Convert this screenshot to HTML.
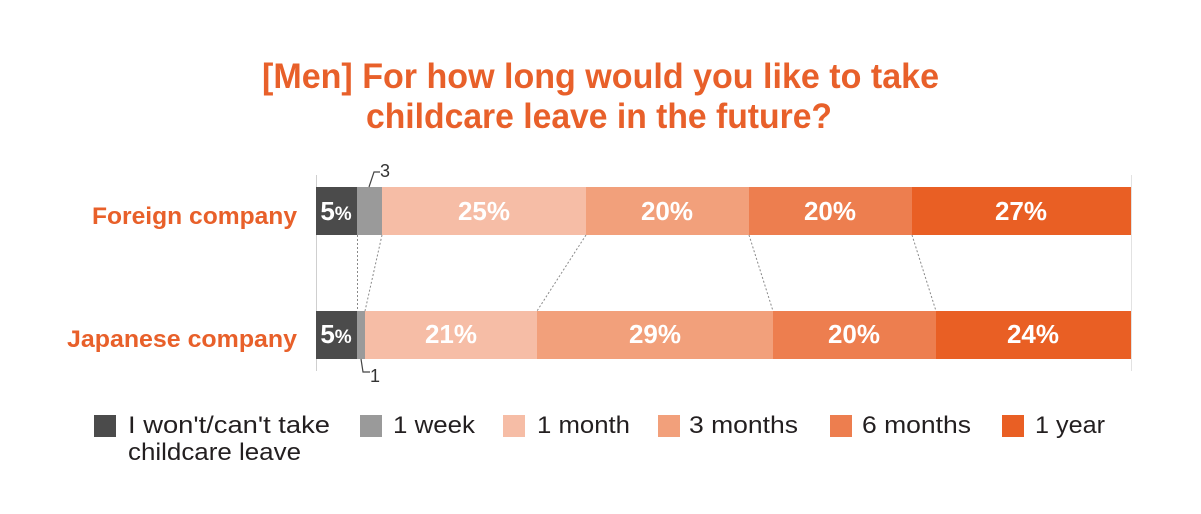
<!DOCTYPE html>
<html><head><meta charset="utf-8"><style>
html,body{margin:0;padding:0;background:#fff;}
svg{display:block;}
text{font-family:"Liberation Sans",Arial,sans-serif;}
</style></head><body>
<svg width="1201" height="514" viewBox="0 0 1201 514" xmlns="http://www.w3.org/2000/svg">
<rect width="1201" height="514" fill="#fff"/>
<!-- title -->
<text x="262" y="88" font-size="35" font-weight="bold" fill="#e8602a" textLength="677" lengthAdjust="spacingAndGlyphs">[Men] For how long would you like to take</text>
<text x="366" y="128" font-size="35" font-weight="bold" fill="#e8602a" textLength="466" lengthAdjust="spacingAndGlyphs">childcare leave in the future?</text>

<!-- category labels -->
<text x="92" y="224" font-size="24" font-weight="bold" fill="#e8602a" textLength="205" lengthAdjust="spacingAndGlyphs">Foreign company</text>
<text x="67" y="347" font-size="24" font-weight="bold" fill="#e8602a" textLength="230" lengthAdjust="spacingAndGlyphs">Japanese company</text>

<!-- axis lines -->
<line x1="316.5" y1="175" x2="316.5" y2="371" stroke="#cfcfcf" stroke-width="1"/>
<line x1="1131.5" y1="175" x2="1131.5" y2="371" stroke="#e2e2e2" stroke-width="1"/>

<!-- top bar -->
<rect x="316" y="187" width="41" height="48" fill="#4b4b4b"/>
<rect x="357" y="187" width="25" height="48" fill="#9a9a9a"/>
<rect x="382" y="187" width="204" height="48" fill="#f6bda6"/>
<rect x="586" y="187" width="163" height="48" fill="#f2a07b"/>
<rect x="749" y="187" width="163" height="48" fill="#ed7e4f"/>
<rect x="912" y="187" width="219" height="48" fill="#e95f24"/>

<!-- bottom bar -->
<rect x="316" y="311" width="41" height="48" fill="#4b4b4b"/>
<rect x="357" y="311" width="8" height="48" fill="#9a9a9a"/>
<rect x="365" y="311" width="172" height="48" fill="#f6bda6"/>
<rect x="537" y="311" width="236" height="48" fill="#f2a07b"/>
<rect x="773" y="311" width="163" height="48" fill="#ed7e4f"/>
<rect x="936" y="311" width="195" height="48" fill="#e95f24"/>

<!-- connectors -->
<g stroke="#8a8a8a" stroke-width="1" stroke-dasharray="2,2" fill="none">
<line x1="357.5" y1="235" x2="357.5" y2="311"/>
<line x1="382" y1="235" x2="365" y2="311"/>
<line x1="586" y1="235" x2="537" y2="311"/>
<line x1="749" y1="235" x2="773" y2="311"/>
<line x1="912" y1="235" x2="936" y2="311"/>
</g>

<!-- callouts -->
<polyline points="369,187 374,172 380,172" fill="none" stroke="#444" stroke-width="1.2"/>
<text x="380" y="177" font-size="18" fill="#333">3</text>
<polyline points="361,359 363,372 370,372" fill="none" stroke="#444" stroke-width="1.2"/>
<text x="370" y="382" font-size="18" fill="#333">1</text>

<!-- bar labels -->
<g fill="#fff" font-weight="bold" text-anchor="middle" font-size="26">
<text x="336" y="220"><tspan>5</tspan><tspan font-size="19">%</tspan></text>
<text x="484" y="220">25%</text>
<text x="667" y="220">20%</text>
<text x="830" y="220">20%</text>
<text x="1021" y="220">27%</text>
<text x="336" y="343"><tspan>5</tspan><tspan font-size="19">%</tspan></text>
<text x="451" y="343">21%</text>
<text x="655" y="343">29%</text>
<text x="854" y="343">20%</text>
<text x="1033" y="343">24%</text>
</g>

<!-- legend -->
<rect x="94" y="415" width="22" height="22" fill="#4b4b4b"/>
<text x="128" y="433" font-size="24" fill="#231f20" textLength="202" lengthAdjust="spacingAndGlyphs">I won't/can't take</text>
<text x="128" y="460" font-size="24" fill="#231f20" textLength="173" lengthAdjust="spacingAndGlyphs">childcare leave</text>

<rect x="360" y="415" width="22" height="22" fill="#9a9a9a"/>
<text x="393" y="433" font-size="24" fill="#231f20" textLength="82" lengthAdjust="spacingAndGlyphs">1 week</text>

<rect x="503" y="415" width="22" height="22" fill="#f6bda6"/>
<text x="537" y="433" font-size="24" fill="#231f20" textLength="93" lengthAdjust="spacingAndGlyphs">1 month</text>

<rect x="658" y="415" width="22" height="22" fill="#f2a07b"/>
<text x="689" y="433" font-size="24" fill="#231f20" textLength="109" lengthAdjust="spacingAndGlyphs">3 months</text>

<rect x="830" y="415" width="22" height="22" fill="#ed7e4f"/>
<text x="862" y="433" font-size="24" fill="#231f20" textLength="109" lengthAdjust="spacingAndGlyphs">6 months</text>

<rect x="1002" y="415" width="22" height="22" fill="#e95f24"/>
<text x="1035" y="433" font-size="24" fill="#231f20" textLength="70" lengthAdjust="spacingAndGlyphs">1 year</text>
</svg>
</body></html>
